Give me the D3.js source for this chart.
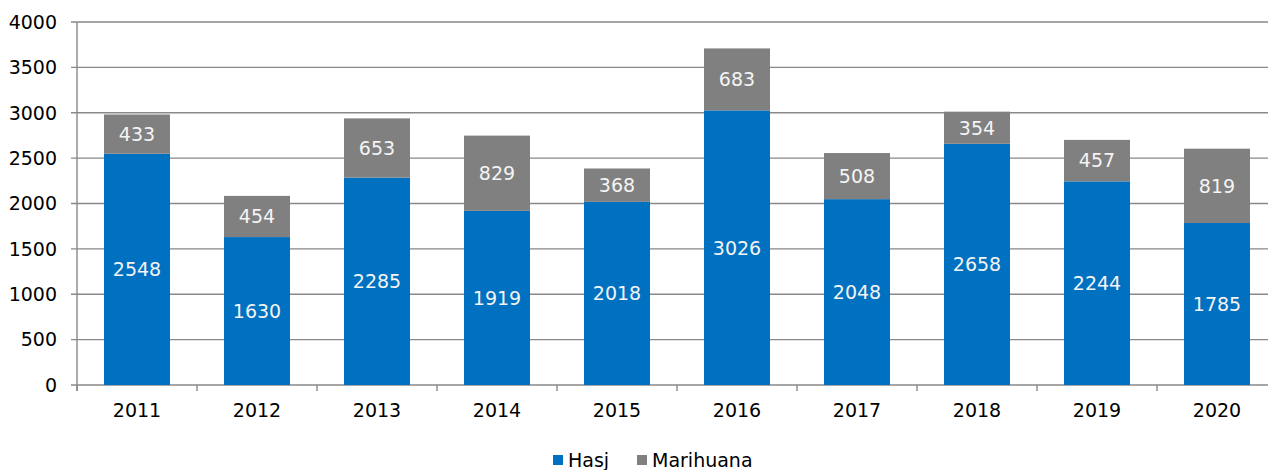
<!DOCTYPE html>
<html>
<head>
<meta charset="utf-8">
<script src="https://cdn.jsdelivr.net/npm/d3@7"></script>
<style>
body { margin: 0; background: #fff; }
svg text { font-family: Verdana, "DejaVu Sans", sans-serif; }
</style>
</head>
<body>
<svg id="chart" width="1268" height="470"></svg>
<script>
var years = ["2011", "2012", "2013", "2014", "2015", "2016", "2017", "2018", "2019", "2020"];
var hasj = [2548, 1630, 2285, 1919, 2018, 3026, 2048, 2658, 2244, 1785];
var marihuana = [433, 454, 653, 829, 368, 683, 508, 354, 457, 819];
var yTicks = [0, 500, 1000, 1500, 2000, 2500, 3000, 3500, 4000];
var seriesNames = ["Hasj", "Marihuana"];
var seriesColors = ["#0070C0", "#808080"];

var svg = d3.select("#chart");
var plotLeft = 77, plotRight = 1277, plotTop = 22, plotBottom = 385;
var gridColor = "#898989";

var xs = d3.scaleBand().domain(years).range([plotLeft, plotRight]).paddingInner(0.45).paddingOuter(0.225);
var ys = d3.scaleLinear().domain([0, 4000]).range([plotBottom, plotTop]);

// gridlines
svg.append("g")
    .selectAll("line")
    .data(yTicks)
    .enter()
    .append("line")
        .attr("x1", plotLeft - 6)
        .attr("x2", 1268)
        .attr("y1", function(d) { return ys(d); })
        .attr("y2", function(d) { return ys(d); })
        .attr("stroke", gridColor)
        .attr("stroke-width", 1.4);

// y labels
svg.append("g")
    .selectAll("text")
    .data(yTicks)
    .enter()
    .append("text")
        .attr("x", 57)
        .attr("y", function(d) { return ys(d); })
        .attr("dy", "0.36em")
        .attr("text-anchor", "end")
        .attr("font-size", 19)
        .attr("fill", "#000")
        .text(function(d) { return d; });

// y axis line
svg.append("line")
    .attr("x1", plotLeft).attr("x2", plotLeft)
    .attr("y1", plotTop).attr("y2", plotBottom + 6)
    .attr("stroke", gridColor).attr("stroke-width", 1.4);

// x ticks at band boundaries
var step = xs.step();
svg.append("g")
    .selectAll("line")
    .data(d3.range(years.length + 1))
    .enter()
    .append("line")
        .attr("x1", function(i) { return plotLeft + i * step; })
        .attr("x2", function(i) { return plotLeft + i * step; })
        .attr("y1", plotBottom)
        .attr("y2", plotBottom + 6)
        .attr("stroke", gridColor)
        .attr("stroke-width", 1.4);

// bars
var rows = years.map(function(y, i) { return { year: y, hasj: hasj[i], marihuana: marihuana[i] }; });
var stack = d3.stack().keys(["hasj", "marihuana"])(rows);

var layers = svg.append("g")
    .selectAll("g")
    .data(stack)
    .enter()
    .append("g")
        .attr("fill", function(d, i) { return seriesColors[i]; });

layers.selectAll("rect")
    .data(function(d) { return d; })
    .enter()
    .append("rect")
        .attr("x", function(d) { return xs(d.data.year); })
        .attr("width", xs.bandwidth())
        .attr("y", function(d) { return ys(d[1]); })
        .attr("height", function(d) { return ys(d[0]) - ys(d[1]); });

layers.selectAll("text")
    .data(function(d) { return d; })
    .enter()
    .append("text")
        .attr("x", function(d) { return xs(d.data.year) + xs.bandwidth() / 2; })
        .attr("y", function(d) { return (ys(d[0]) + ys(d[1])) / 2; })
        .attr("dy", "0.36em")
        .attr("text-anchor", "middle")
        .attr("font-size", 19)
        .attr("fill", "#f4f4f4")
        .text(function(d) { return d[1] - d[0]; });

// x labels
svg.append("g")
    .selectAll("text")
    .data(years)
    .enter()
    .append("text")
        .attr("x", function(d) { return xs(d) + xs.bandwidth() / 2; })
        .attr("y", 417)
        .attr("text-anchor", "middle")
        .attr("font-size", 19)
        .attr("fill", "#000")
        .text(function(d) { return d; });

// legend
var legendX = [553, 637];
var legend = svg.append("g")
    .selectAll("g")
    .data(seriesNames)
    .enter()
    .append("g")
        .attr("transform", function(d, i) { return "translate(" + legendX[i] + ",455)"; });
legend.append("rect")
    .attr("width", 10).attr("height", 10)
    .attr("fill", function(d, i) { return seriesColors[i]; });
legend.append("text")
    .attr("x", 15)
    .attr("y", 12)
    .attr("font-size", 19)
    .attr("fill", "#000")
    .text(function(d) { return d; });
</script>
</body>
</html>
